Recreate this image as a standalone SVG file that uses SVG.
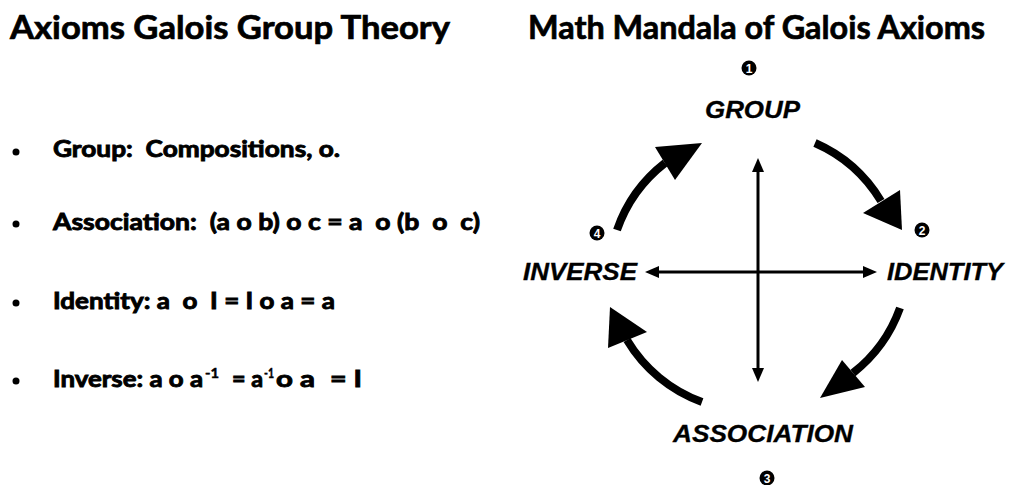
<svg xmlns="http://www.w3.org/2000/svg" width="1009" height="485" viewBox="0 0 1009 485">
<style>
.title{font-family:Lato,"Open Sans","Liberation Sans",sans-serif;font-weight:700;font-size:33px;fill:#000;stroke:#000;stroke-width:0.7}
.body{font-family:Lato,"Open Sans","Liberation Sans",sans-serif;font-weight:700;font-size:23px;fill:#000;stroke:#000;stroke-width:0.9;white-space:pre}
.sup{font-family:Lato,"Open Sans","Liberation Sans",sans-serif;font-weight:700;font-size:14px;fill:#000;stroke:#000;stroke-width:0.5}
.lbl{font-family:"Liberation Sans",Arial,sans-serif;font-weight:700;font-style:italic;font-size:23px;fill:#000;stroke:#000;stroke-width:0.3}
.num{font-family:"Liberation Sans",Arial,sans-serif;font-weight:700;font-size:12px;fill:#fff;text-anchor:middle}
.arc{fill:none;stroke:#000;stroke-width:8}
.thin{fill:none;stroke:#000;stroke-width:3}
.head{fill:#000}
</style>
<rect width="1009" height="485" fill="#fff"/>

<g id="left-title"><text class="title" x="10" y="39" textLength="440" lengthAdjust="spacingAndGlyphs">Axioms Galois Group Theory</text></g>

<g id="bullets">
<circle cx="16" cy="152" r="3.5" fill="#000"/>
<text class="body" x="53" y="157" textLength="287" lengthAdjust="spacingAndGlyphs">Group:  Compositions, o.</text>
<circle cx="16" cy="224" r="3.5" fill="#000"/>
<text class="body" x="53" y="230" textLength="427" lengthAdjust="spacingAndGlyphs">Association:  (a o b) o c = a  o (b  o  c)</text>
<circle cx="16" cy="303" r="3.5" fill="#000"/>
<text class="body" x="53" y="309" textLength="282" lengthAdjust="spacingAndGlyphs">Identity: a  o  I = I o a = a</text>
<circle cx="16" cy="381" r="3.5" fill="#000"/>
<text class="body" x="53" y="387" textLength="150" lengthAdjust="spacingAndGlyphs">Inverse: a o a</text>
<text class="sup" x="205" y="378" textLength="14" lengthAdjust="spacingAndGlyphs">-1</text>
<text class="body" x="232" y="387" textLength="31" lengthAdjust="spacingAndGlyphs">= a</text>
<text class="sup" x="264" y="378" textLength="10" lengthAdjust="spacingAndGlyphs">-1</text>
<text class="body" x="276" y="387" textLength="39" lengthAdjust="spacingAndGlyphs">o a</text>
<text class="body" x="330" y="387" textLength="32" lengthAdjust="spacingAndGlyphs">= I</text>
</g>

<g id="right-title"><text class="title" x="528" y="39" textLength="457" lengthAdjust="spacingAndGlyphs">Math Mandala of Galois Axioms</text></g>

<g id="connectors">
<path class="arc" d="M617,230 A145,145 0 0,1 665,163"/>
<polygon class="head" points="702,143 655,147 675,180"/>
<path class="arc" d="M815,143 A145,145 0 0,1 881,201"/>
<polygon class="head" points="902,230 863,213 900,190"/>
<path class="arc" d="M900,308 A145,145 0 0,1 853,373"/>
<polygon class="head" points="820,398 842,360 865,387"/>
<path class="arc" d="M702,402 A145,145 0 0,1 627,340"/>
<polygon class="head" points="610,307 608,348 647,332"/>
<line class="thin" x1="758" y1="375" x2="758" y2="165"/>
<polygon class="head" points="758,158 752,172 764,172"/>
<polygon class="head" points="758,382 752,368 764,368"/>
<line class="thin" x1="652" y1="272" x2="870" y2="272"/>
<polygon class="head" points="645,272 659,266 659,278"/>
<polygon class="head" points="877,272 863,266 863,278"/>
</g>

<g id="node-group">
<circle cx="749" cy="68" r="7.5" fill="#000"/><text class="num" x="749" y="72.5">1</text>
<text class="lbl" x="705" y="118" textLength="95" lengthAdjust="spacingAndGlyphs">GROUP</text>
</g>
<g id="node-identity">
<circle cx="922" cy="230" r="7.5" fill="#000"/><text class="num" x="922" y="234.5">2</text>
<text class="lbl" x="887" y="280" textLength="116" lengthAdjust="spacingAndGlyphs">IDENTITY</text>
</g>
<g id="node-association">
<circle cx="767" cy="478" r="7.5" fill="#000"/><text class="num" x="767" y="482.5">3</text>
<text class="lbl" x="673" y="442" textLength="180" lengthAdjust="spacingAndGlyphs">ASSOCIATION</text>
</g>
<g id="node-inverse">
<circle cx="597" cy="233" r="7.5" fill="#000"/><text class="num" x="597" y="237.5">4</text>
<text class="lbl" x="523" y="280" textLength="114" lengthAdjust="spacingAndGlyphs">INVERSE</text>
</g>
</svg>
